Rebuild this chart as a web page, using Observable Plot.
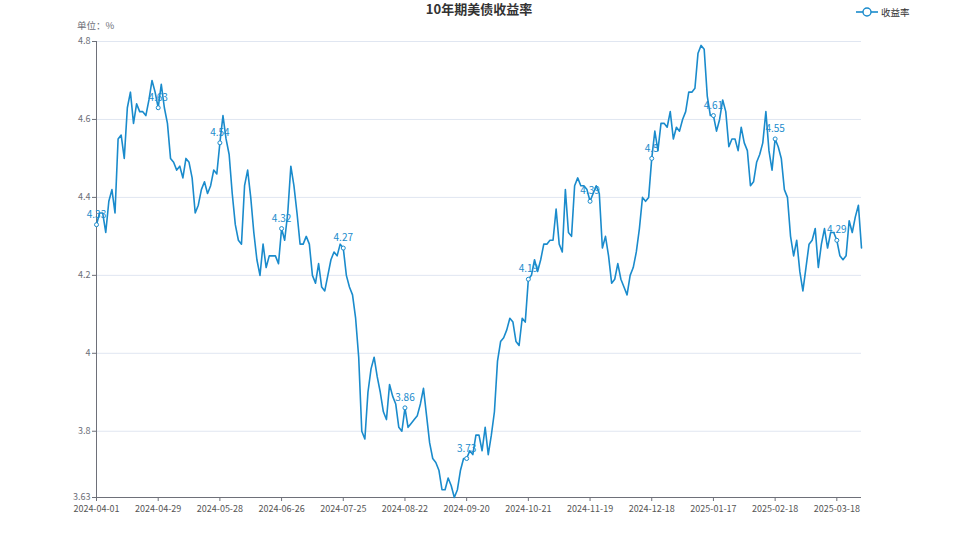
<!DOCTYPE html>
<html>
<head>
<meta charset="utf-8">
<script src="https://cdn.jsdelivr.net/npm/d3@7"></script>
<script src="https://cdn.jsdelivr.net/npm/@observablehq/plot@0.6"></script>
<style>
  body { margin: 0; background: #fff; font-family: "Noto Sans CJK SC", "Noto Sans", sans-serif; }
  #wrap { position: relative; width: 958px; height: 539px; overflow: hidden; }
  #title { position: absolute; left: 0; top: 1px; width: 958px; text-align: center; font-size: 13px; font-weight: bold; color: #333; line-height: 16px; }
  #unit { position: absolute; left: 77px; top: 18px; font-size: 9.5px; color: #6E7079; line-height: 14px; }
  #legend { position: absolute; left: 856px; top: 4px; font-size: 9.5px; color: #333; line-height: 16px; display: flex; align-items: center; }
  #legend svg { margin-right: 3px; }
  #chart { position: absolute; left: 0; top: 0; }
</style>
</head>
<body>
<div id="wrap">
  <div id="chart"></div>
  <div id="title"></div>
  <div id="unit"></div>
  <div id="legend"></div>
</div>
<script>
const titleText = "10年期美债收益率";
const unitText = "单位：%";
const seriesName = "收益率";
const lineColor = "#1a8bcc";

const dates = [
  "2024-04-01","2024-04-02","2024-04-03","2024-04-04","2024-04-05","2024-04-08","2024-04-09","2024-04-10","2024-04-11","2024-04-12","2024-04-15","2024-04-16","2024-04-17","2024-04-18","2024-04-19","2024-04-22","2024-04-23","2024-04-24","2024-04-25","2024-04-26","2024-04-29","2024-04-30",
  "2024-05-01","2024-05-02","2024-05-03","2024-05-06","2024-05-07","2024-05-08","2024-05-09","2024-05-10","2024-05-13","2024-05-14","2024-05-15","2024-05-16","2024-05-17","2024-05-20","2024-05-21","2024-05-22","2024-05-23","2024-05-24","2024-05-28","2024-05-29","2024-05-30","2024-05-31",
  "2024-06-03","2024-06-04","2024-06-05","2024-06-06","2024-06-07","2024-06-10","2024-06-11","2024-06-12","2024-06-13","2024-06-14","2024-06-17","2024-06-18","2024-06-20","2024-06-21","2024-06-24","2024-06-25","2024-06-26","2024-06-27","2024-06-28",
  "2024-07-01","2024-07-02","2024-07-03","2024-07-05","2024-07-08","2024-07-09","2024-07-10","2024-07-11","2024-07-12","2024-07-15","2024-07-16","2024-07-17","2024-07-18","2024-07-19","2024-07-22","2024-07-23","2024-07-24","2024-07-25","2024-07-26","2024-07-29","2024-07-30","2024-07-31",
  "2024-08-01","2024-08-02","2024-08-05","2024-08-06","2024-08-07","2024-08-08","2024-08-09","2024-08-12","2024-08-13","2024-08-14","2024-08-15","2024-08-16","2024-08-19","2024-08-20","2024-08-21","2024-08-22","2024-08-23","2024-08-26","2024-08-27","2024-08-28","2024-08-29","2024-08-30",
  "2024-09-03","2024-09-04","2024-09-05","2024-09-06","2024-09-09","2024-09-10","2024-09-11","2024-09-12","2024-09-13","2024-09-16","2024-09-17","2024-09-18","2024-09-19","2024-09-20","2024-09-23","2024-09-24","2024-09-25","2024-09-26","2024-09-27","2024-09-30",
  "2024-10-01","2024-10-02","2024-10-03","2024-10-04","2024-10-07","2024-10-08","2024-10-09","2024-10-10","2024-10-11","2024-10-15","2024-10-16","2024-10-17","2024-10-18","2024-10-21","2024-10-22","2024-10-23","2024-10-24","2024-10-25","2024-10-28","2024-10-29","2024-10-30","2024-10-31",
  "2024-11-01","2024-11-04","2024-11-05","2024-11-06","2024-11-07","2024-11-08","2024-11-12","2024-11-13","2024-11-14","2024-11-15","2024-11-18","2024-11-19","2024-11-20","2024-11-21","2024-11-22","2024-11-25","2024-11-26","2024-11-27","2024-11-29",
  "2024-12-02","2024-12-03","2024-12-04","2024-12-05","2024-12-06","2024-12-09","2024-12-10","2024-12-11","2024-12-12","2024-12-13","2024-12-16","2024-12-17","2024-12-18","2024-12-19","2024-12-20","2024-12-23","2024-12-24","2024-12-26","2024-12-27","2024-12-30","2024-12-31",
  "2025-01-02","2025-01-03","2025-01-06","2025-01-07","2025-01-08","2025-01-09","2025-01-10","2025-01-13","2025-01-14","2025-01-15","2025-01-16","2025-01-17","2025-01-21","2025-01-22","2025-01-23","2025-01-24","2025-01-27","2025-01-28","2025-01-29","2025-01-30","2025-01-31",
  "2025-02-03","2025-02-04","2025-02-05","2025-02-06","2025-02-07","2025-02-10","2025-02-11","2025-02-12","2025-02-13","2025-02-14","2025-02-18","2025-02-19","2025-02-20","2025-02-21","2025-02-24","2025-02-25","2025-02-26","2025-02-27","2025-02-28",
  "2025-03-03","2025-03-04","2025-03-05","2025-03-06","2025-03-07","2025-03-10","2025-03-11","2025-03-12","2025-03-13","2025-03-14","2025-03-17","2025-03-18","2025-03-19","2025-03-20","2025-03-21","2025-03-24","2025-03-25","2025-03-26","2025-03-27","2025-03-28"
];

const values = [
  4.33,4.36,4.36,4.31,4.39,4.42,4.36,4.55,4.56,4.50,4.63,4.67,4.59,4.64,4.62,4.62,4.61,4.65,4.70,4.67,4.63,4.69,
  4.63,4.59,4.50,4.49,4.47,4.48,4.45,4.50,4.49,4.45,4.36,4.38,4.42,4.44,4.41,4.43,4.47,4.46,4.54,4.61,4.55,4.51,
  4.41,4.33,4.29,4.28,4.43,4.47,4.40,4.31,4.24,4.20,4.28,4.22,4.25,4.25,4.25,4.23,4.32,4.29,4.36,
  4.48,4.43,4.36,4.28,4.28,4.30,4.28,4.20,4.18,4.23,4.17,4.16,4.20,4.24,4.26,4.25,4.28,4.27,4.20,4.17,4.15,4.09,
  3.99,3.80,3.78,3.90,3.96,3.99,3.94,3.90,3.85,3.83,3.92,3.89,3.87,3.81,3.80,3.86,3.81,3.82,3.83,3.84,3.87,3.91,
  3.84,3.77,3.73,3.72,3.70,3.65,3.65,3.68,3.66,3.63,3.65,3.70,3.73,3.73,3.75,3.74,3.79,3.79,3.75,3.81,
  3.74,3.79,3.85,3.98,4.03,4.04,4.06,4.09,4.08,4.03,4.02,4.09,4.08,4.19,4.20,4.24,4.21,4.24,4.28,4.28,4.29,4.29,
  4.37,4.28,4.26,4.42,4.31,4.30,4.43,4.45,4.43,4.43,4.42,4.39,4.41,4.43,4.41,4.27,4.30,4.25,4.18,
  4.19,4.23,4.19,4.17,4.15,4.20,4.22,4.26,4.32,4.40,4.39,4.40,4.50,4.57,4.52,4.59,4.59,4.58,4.62,4.55,4.58,
  4.57,4.60,4.62,4.67,4.67,4.68,4.77,4.79,4.78,4.66,4.61,4.61,4.57,4.60,4.65,4.62,4.53,4.55,4.55,4.52,4.58,
  4.54,4.52,4.43,4.44,4.49,4.51,4.54,4.62,4.52,4.47,4.55,4.53,4.50,4.42,4.40,4.30,4.25,4.29,4.21,
  4.16,4.22,4.28,4.29,4.32,4.22,4.28,4.32,4.27,4.31,4.31,4.29,4.25,4.24,4.25,4.34,4.31,4.35,4.38,4.27
];

const xTickLabels = ["2024-04-01","2024-04-29","2024-05-28","2024-06-26","2024-07-25","2024-08-22","2024-09-20","2024-10-21","2024-11-19","2024-12-18","2025-01-17","2025-02-18","2025-03-18"];
const yTicks = [3.63, 3.8, 4, 4.2, 4.4, 4.6, 4.8];

const data = dates.map((d, i) => ({date: d, value: values[i]}));
const labelled = data.filter(d => xTickLabels.includes(d.date));

const axisColor = "#6E7079";
const font = '"Noto Sans CJK SC", "Noto Sans", sans-serif';

const chart = Plot.plot({
  width: 958,
  height: 539,
  marginTop: 41,
  marginBottom: 42,
  marginLeft: 96,
  marginRight: 97,
  style: {fontFamily: font, fontSize: "9px", background: "transparent", color: axisColor},
  x: {type: "point", domain: dates, padding: 0, round: false},
  y: {domain: [3.63, 4.8]},
  marks: [
    Plot.gridY(yTicks.filter(t => t > 3.63), {stroke: "#E0E6F1", strokeOpacity: 1, strokeWidth: 1}),
    Plot.axisY({ticks: yTicks, tickFormat: d => String(d), tickSize: 4, tickPadding: 2, stroke: axisColor, fill: axisColor, label: null}),
    Plot.axisX({ticks: xTickLabels, tickSize: 4, tickPadding: 4, stroke: axisColor, fill: "#555", label: null}),
    Plot.ruleX([dates[0]], {stroke: axisColor, strokeWidth: 1}),
    Plot.ruleY([3.63], {stroke: axisColor, strokeWidth: 1}),
    Plot.line(data, {x: "date", y: "value", stroke: lineColor, strokeWidth: 1.6}),
    Plot.dot(labelled, {x: "date", y: "value", r: 2, fill: "white", stroke: lineColor, strokeWidth: 1}),
    Plot.text(labelled, {x: "date", y: "value", text: d => String(d.value), dy: -10, fill: lineColor, fontSize: 10})
  ]
});
document.getElementById("chart").append(chart);

document.getElementById("title").textContent = titleText;
document.getElementById("unit").textContent = unitText;
const legend = document.getElementById("legend");
legend.innerHTML = `<svg width="22" height="14"><line x1="0" y1="7" x2="22" y2="7" stroke="${lineColor}" stroke-width="1.6"/><circle cx="11" cy="7" r="4" fill="white" stroke="${lineColor}" stroke-width="1.4"/></svg><span></span>`;
legend.querySelector("span").textContent = seriesName;
</script>
</body>
</html>
